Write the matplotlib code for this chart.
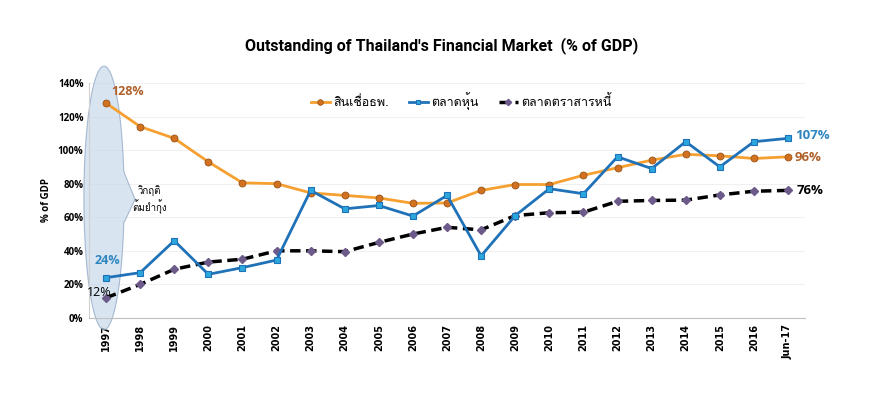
import matplotlib
matplotlib.use("Agg")
import matplotlib.pyplot as plt
from matplotlib import font_manager
from matplotlib.ft2font import FT2Font
from matplotlib.patches import Polygon
import numpy as np

years = ["1997", "1998", "1999", "2000", "2001", "2002", "2003", "2004", "2005", "2006",
         "2007", "2008", "2009", "2010", "2011", "2012", "2013", "2014", "2015", "2016", "Jun-17"]
credit = [128, 114, 107, 93, 80.5, 80, 74.5, 73, 71.5, 68.3, 68.5, 76, 79.5, 79.5, 85,
          89.5, 94, 97.5, 96.6, 95, 96]
stock = [24, 27, 46, 26, 30, 34.5, 76, 65, 67, 60.7, 73, 37, 61, 77, 74, 96, 89, 105,
         90, 105, 107]
bond = [12, 20, 29, 33.3, 35, 40, 40, 39.5, 45, 50, 54, 52.5, 61, 62.7, 63, 69.5, 70,
        70.2, 73.3, 75.5, 76]
labels = ["สินเชื่อธพ.", "ตลาดหุ้น", "ตลาดตราสารหนี้"]
crisis_text = "วิกฤติ\nต้มยำกุ้ง"


# look for any installed font that can draw Thai
def thai_font():
    for f in font_manager.fontManager.ttflist:
        try:
            ft = FT2Font(f.fname)
            if ft.get_char_index(ord("ส")) and ft.get_char_index(ord("ื")):
                return f.name
        except Exception:
            pass
    return None

tf = thai_font()
fams = ([tf] if tf else []) + ["DejaVu Sans"]

plt.rcParams["font.family"] = ["Open Sans", "DejaVu Sans"]

fig = plt.figure(figsize=(8.84, 3.95), dpi=100)
ax = fig.add_axes([0.1007, 0.195, 0.81, 0.595])

x = np.arange(len(years))
ax.plot(x, credit, color="#F5A030", lw=2, marker="o", ms=5, mfc="#D2711F",
        mec="#9A5418", mew=0.6, label=labels[0], zorder=3)
ax.plot(x, stock, color="#1F72B8", lw=2, marker="s", ms=4, mfc="#2BA7DD",
        mec="#1F72B8", mew=0.8, label=labels[1], zorder=4)
ax.plot(x, bond, color="black", lw=2.5, ls=(0, (3, 1.6)), marker="D", ms=4,
        mfc="#6C5A8A", mec="#6C5A8A", label=labels[2], zorder=2)

ax.set_xlim(-0.5, len(years) - 0.5)
ax.set_ylim(0, 140)
ax.set_yticks(np.arange(0, 141, 20))
ax.set_yticklabels([f"{v}%" for v in range(0, 141, 20)], fontsize=7, fontweight="bold")
ax.set_xticks(x)
ax.set_xticklabels(years, rotation=90, fontsize=7, fontweight="bold", family="DejaVu Sans")
ax.tick_params(length=0, pad=4)
ax.set_ylabel("% of GDP", fontsize=7, fontweight="bold")
ax.grid(axis="y", color="#f0f0f0", lw=0.8)
ax.set_axisbelow(True)
for s in ["top", "right"]:
    ax.spines[s].set_visible(False)
ax.spines["left"].set_color("#d0d0d0")
ax.spines["bottom"].set_color("#c0c0c0")

fig.suptitle("Outstanding of Thailand's Financial Market  (% of GDP)", x=0.5, y=0.905,
             fontsize=11.5, fontweight="bold", family=["Roboto", "DejaVu Sans"])

# crisis bubble around 1997: ellipse outline with a pointer on its right side
cx, cy, rx, ry = -0.06, 71.5, 0.59, 78.5
t = np.linspace(0, 2 * np.pi, 240)
pts = np.column_stack([cx + rx * np.cos(t), cy + ry * np.sin(t)])
lo, hi = 57.3, 86.1
keep = ~((pts[:, 0] > cx) & (pts[:, 1] > lo) & (pts[:, 1] < hi))
# t starts at the right-hand edge, so split the gap around the start of the loop
upper = pts[keep & (t < np.pi)]
lower = pts[keep & (t >= np.pi)]
pointer = np.array([[0.54, hi], [0.85, 70.7], [0.54, lo]])[::-1]
outline = np.vstack([pointer, upper, lower])
ax.add_patch(Polygon(outline, closed=True, facecolor="#c9d9ec", edgecolor="#8aa2c0",
                     lw=0.8, alpha=0.7, zorder=1, clip_on=False))
ax.text(1.29, 70.5, crisis_text, fontsize=7, family=fams, va="center", ha="center",
        multialignment="center", linespacing=1.3)

# end / start value labels
ax.text(0.15, 133, "128%", color="#B0602A", fontsize=9, fontweight="bold")
ax.text(-0.35, 32, "24%", color="#2E86C1", fontsize=9, fontweight="bold")
ax.text(-0.55, 13, "12%", color="black", fontsize=9)
ax.text(20.2, 108.5, "107%", color="#2E86C1", fontsize=9.5, fontweight="bold", va="center")
ax.text(20.2, 95.5, "96%", color="#B0602A", fontsize=9.5, fontweight="bold", va="center")
ax.text(20.25, 76, "76%", color="black", fontsize=9.5, fontweight="bold", va="center")

leg = ax.legend(loc="center", bbox_to_anchor=(0.52, 0.923), ncol=3, frameon=False,
                prop={"family": fams, "size": 9}, handlelength=1.5, columnspacing=1.6,
                handletextpad=0.3, markerscale=0.8)

fig.savefig("out.png", dpi=100)
